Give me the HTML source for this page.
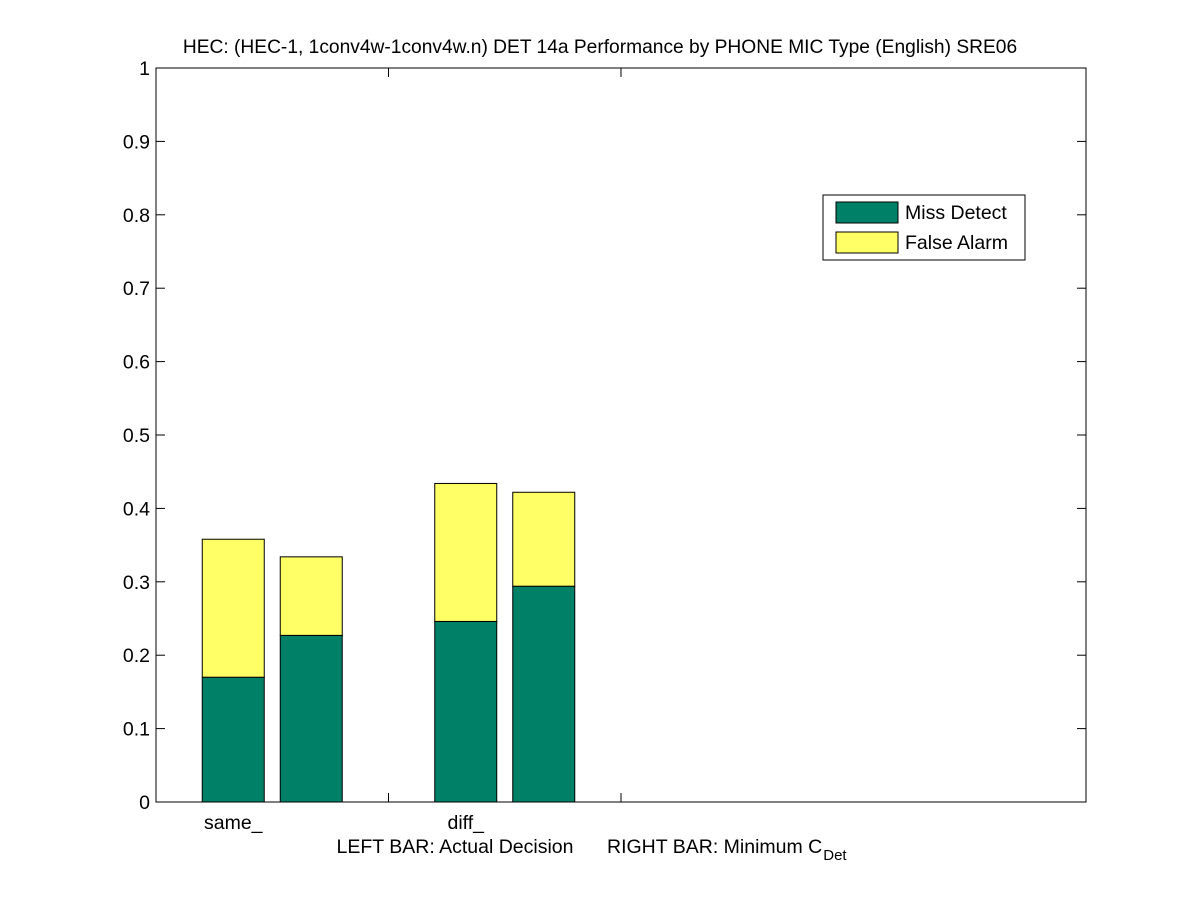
<!DOCTYPE html>
<html><head><meta charset="utf-8"><style>
body{margin:0;background:#fff;}
svg text{font-family:"Liberation Sans",Arial,sans-serif;fill:#000;}
</style></head><body>
<svg id="chart" width="1200" height="901" xmlns="http://www.w3.org/2000/svg">
<rect width="1200" height="901" fill="#fff"/>
<text x="600" y="53" font-size="19.2" text-anchor="middle">HEC: (HEC-1, 1conv4w-1conv4w.n) DET 14a Performance by PHONE MIC Type (English) SRE06</text>
<g id="axes"></g>
<g id="bars"></g>
<rect x="156" y="68" width="930" height="734" fill="none" stroke="#000" stroke-width="1"/>
<text x="455" y="853" font-size="19.5" text-anchor="middle">LEFT BAR: Actual Decision</text>
<text x="607" y="853" font-size="19.5">RIGHT BAR: Minimum C<tspan font-size="15" dy="7" dx="1">Det</tspan></text>
<g>
<rect x="823" y="195" width="202" height="65" fill="#fff" stroke="#000"/>
<rect x="836" y="202" width="62" height="21" fill="#008066" stroke="#000"/>
<text x="905" y="219" font-size="19.5">Miss Detect</text>
<rect x="836" y="232" width="62" height="21" fill="#ffff66" stroke="#000"/>
<text x="905" y="249" font-size="19.5">False Alarm</text>
</g>
</svg>
<script>
const categories = ["same_", "diff_"];
const actualMiss = [0.170, 0.246];
const actualTotal = [0.358, 0.434];
const minMiss = [0.227, 0.294];
const minTotal = [0.334, 0.422];
const yTicks = [0,0.1,0.2,0.3,0.4,0.5,0.6,0.7,0.8,0.9,1];
const yTickLabels = ["0","0.1","0.2","0.3","0.4","0.5","0.6","0.7","0.8","0.9","1"];
const xTicks = [1,2];

const NS="http://www.w3.org/2000/svg";
const x0=156,x1=1086,y0=802,y1=68;
const xScale=v=>x0+v*(x1-x0)/4;
const yScale=v=>y0-v*(y0-y1);
function mk(tag,attrs,parent){const e=document.createElementNS(NS,tag);for(const k in attrs)e.setAttribute(k,attrs[k]);parent.appendChild(e);return e;}
const axes=document.getElementById('axes'), bars=document.getElementById('bars');
yTicks.forEach((t,i)=>{
  const y=yScale(t);
  const l1=mk('line',{x1:x0,x2:x0+9,y1:y,y2:y,stroke:'#000'},axes);
  
  
  const l2=mk('line',{x1:x1-9,x2:x1,y1:y,y2:y,stroke:'#000'},axes);
  
  
  const tx=mk('text',{x:150,y:y+7,'font-size':19.5,'text-anchor':'end'},axes);
  tx.textContent=yTickLabels[i];
  
  
});
xTicks.forEach(v=>{
  const x=xScale(v);
  const a=mk('line',{x1:x,x2:x,y1:y0,y2:y0-9,stroke:'#000'},axes);
  
  
  const b=mk('line',{x1:x,x2:x,y1:y1,y2:y1+9,stroke:'#000'},axes);
  
  
});
function bar(xl,bot,top,fill,name){
  const r=mk('rect',{x:xl,y:yScale(top),width:62,height:yScale(bot)-yScale(top),fill:fill,stroke:'#000'},bars);
  
  
}
categories.forEach((c,i)=>{
  const cx=xScale(i+0.5);
  bar(cx-70,0,actualMiss[i],'#008066','bar-'+c+'actual-miss');
  bar(cx-70,actualMiss[i],actualTotal[i],'#ffff66','bar-'+c+'actual-fa');
  bar(cx+8,0,minMiss[i],'#008066','bar-'+c+'min-miss');
  bar(cx+8,minMiss[i],minTotal[i],'#ffff66','bar-'+c+'min-fa');
  const t=mk('text',{x:cx-39,y:829,'font-size':19.5,'text-anchor':'middle'},axes);
  t.textContent=c;
  
  
});
</script>
</body></html>
